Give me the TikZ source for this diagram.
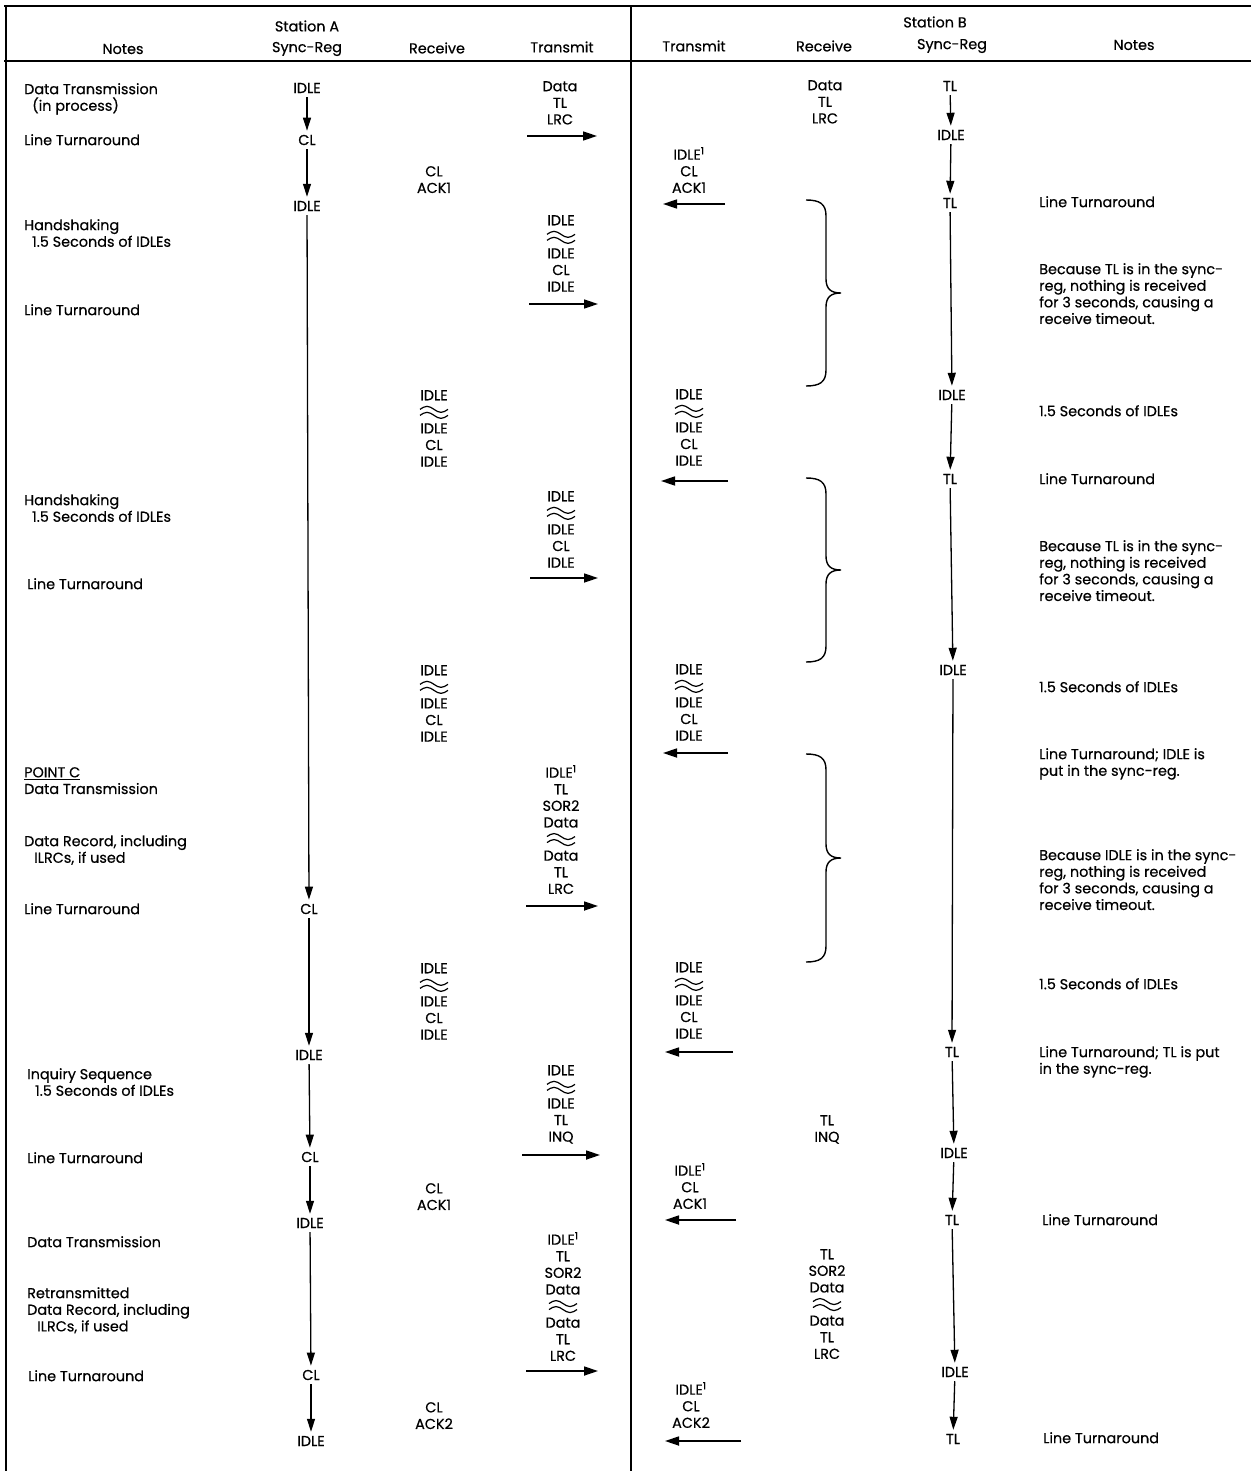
\documentclass[tikz,border=0pt]{standalone}
\usepackage{fontspec}
\setmainfont[FakeBold=0.5]{Poppins}
\usetikzlibrary{arrows.meta}
\newcommand\fs{\fontsize{14.4}{16.6}\selectfont}
% two wavy strokes standing for "and so on"
\newcommand\wv{\tikz[x=1pt,y=1pt,baseline=0pt,line width=1.2pt]{\draw (0,7.5) sin (7,10.5) cos (14,7.5) sin (21,4.5) cos (28,7.5);\draw (0,1.5) sin (7,4.5) cos (14,1.5) sin (21,-1.5) cos (28,1.5);}}
\begin{document}
\begin{tikzpicture}[x=1pt,y=-1pt,
every node/.style={font=\fs,inner sep=0pt},
reg/.style={inner xsep=1pt,inner ysep=4pt},
stk/.style={align=center,anchor=north},
note/.style={align=left,anchor=north west},
flow/.style={-{Triangle[length=13pt,width=8pt]},line width=1.3pt},
sig/.style={-{Triangle[length=14pt,width=9pt]},line width=1.7pt},
brc/.style={line width=1.4pt},
frame/.style={line width=1.7pt}]
\useasboundingbox (0,0) rectangle (1251,1471);
\draw[frame](4,6)--(1251,6) (4,61)--(1251,61) (6,6)--(6,1471) (631,6)--(631,1471);
%%% header
\node (hA) at (307,26) {Station A};
\node (hB) at (935,22) {Station B};
\node (hn1) at (123,49) {Notes};
\node (hs1) at (307,49) {Sync-Reg};
\node (hr1) at (437,48) {Receive};
\node (ht1) at (562,47) {Transmit};
\node (ht2) at (694,46) {Transmit};
\node (hr2) at (824,46) {Receive};
\node (hs2) at (952,46) {Sync-Reg};
\node (hn2) at (1134,45) {Notes};
%%% sync-reg, station A
\node[reg] (a1) at (307,88) {IDLE};
\node[reg] (a2) at (307,140) {CL};
\node[reg] (a3) at (307,206) {IDLE};
\node[reg] (a4) at (309,909) {CL};
\node[reg] (a5) at (309,1055) {IDLE};
\node[reg] (a6) at (310,1157) {CL};
\node[reg] (a7) at (310,1223) {IDLE};
\node[reg] (a8) at (311,1375) {CL};
\node[reg] (a9) at (311,1441) {IDLE};
\foreach \i/\j in {1/2,2/3,3/4,4/5,5/6,6/7,7/8,8/9}
  \draw[flow](a\i)--(a\j);
%%% sync-reg, station B
\node[reg] (b1) at (950,86) {TL};
\node[reg] (b2) at (951,135) {IDLE};
\node[reg] (b3) at (950,203) {TL};
\node[reg] (b4) at (952,395) {IDLE};
\node[reg] (b5) at (950,479) {TL};
\node[reg] (b6) at (953,670) {IDLE};
\node[reg] (b7) at (952,1052) {TL};
\node[reg] (b8) at (954,1153) {IDLE};
\node[reg] (b9) at (952,1220) {TL};
\node[reg] (b10) at (955,1372) {IDLE};
\node[reg] (b11) at (953,1439) {TL};
\foreach \i/\j in {1/2,2/3,3/4,4/5,5/6,6/7,7/8,8/9,9/10,10/11}
  \draw[flow](b\i)--(b\j);
%%% station A receive
\node[stk] (r1) at (434,166) {CL\\ACK1};
\node[stk] (r2) at (434,390) {IDLE\\\wv\\IDLE\\CL\\IDLE};
\node[stk] (r3) at (434,665) {IDLE\\\wv\\IDLE\\CL\\IDLE};
\node[stk] (r4) at (434,963) {IDLE\\\wv\\IDLE\\CL\\IDLE};
\node[stk] (r5) at (434,1183) {CL\\ACK1};
\node[stk] (r6) at (434,1402) {CL\\ACK2};
%%% station A transmit
\node[stk] (t1) at (560,81) {Data\\TL\\LRC};
\node[stk] (t2) at (561,215) {IDLE\\\wv\\IDLE\\CL\\IDLE};
\node[stk] (t3) at (561,491) {IDLE\\\wv\\IDLE\\CL\\IDLE};
\node[stk] (t4) at (561,765) {IDLE\textsuperscript{1}\\TL\\SOR2\\Data\\\wv\\Data\\TL\\LRC};
\node[stk] (t5) at (561,1065) {IDLE\\\wv\\IDLE\\TL\\INQ};
\node[stk] (t6) at (563,1232) {IDLE\textsuperscript{1}\\TL\\SOR2\\Data\\\wv\\Data\\TL\\LRC};
\foreach \xa/\xb/\yy in {527/597/136,529/598/304,530/598/578,526/598/906,522/600/1155,526/598/1371}
  \draw[sig](\xa,\yy)--(\xb,\yy);
%%% station B transmit
\node[stk] (u1) at (689,147) {IDLE\textsuperscript{1}\\CL\\ACK1};
\node[stk] (u2) at (689,389) {IDLE\\\wv\\IDLE\\CL\\IDLE};
\node[stk] (u3) at (689,664) {IDLE\\\wv\\IDLE\\CL\\IDLE};
\node[stk] (u4) at (689,962) {IDLE\\\wv\\IDLE\\CL\\IDLE};
\node[stk] (u5) at (690,1163) {IDLE\textsuperscript{1}\\CL\\ACK1};
\node[stk] (u6) at (691,1382) {IDLE\textsuperscript{1}\\CL\\ACK2};
\foreach \xa/\xb/\yy in {725/663/204,728/661/481,728/663/753,733/665/1052,736/665/1220,741/665/1441}
  \draw[sig](\xa,\yy)--(\xb,\yy);
%%% station B receive
\node[stk] (v1) at (825,80) {Data\\TL\\LRC};
\node[stk] (v2) at (827,1115) {TL\\INQ};
\node[stk] (v3) at (827,1249) {TL\\SOR2\\Data\\\wv\\Data\\TL\\LRC};
\foreach \ya/\yb [evaluate=\ya as \ym using (\ya+\yb)/2] in {200/386,478/662,754/962}
  \draw[brc](806,\ya) .. controls (820,\ya) and (826,\ya+4) .. (826,\ya+16) -- (826,\ym-14)
    .. controls (826,\ym-4) and (831,\ym) .. (841,\ym) .. controls (831,\ym) and (826,\ym+4) .. (826,\ym+14)
    -- (826,\yb-16) .. controls (826,\yb-4) and (820,\yb) .. (806,\yb);
%%% notes, station A
\node[note] (n1) at (24,83) {Data Transmission\\\hspace*{8pt}(in process)};
\node[note] (n2) at (24,134) {Line Turnaround};
\node[note] (n3) at (24,219) {Handshaking\\\hspace*{8pt}1.5 Seconds of IDLEs};
\node[note] (n4) at (24,304) {Line Turnaround};
\node[note] (n5) at (24,494) {Handshaking\\\hspace*{8pt}1.5 Seconds of IDLEs};
\node[note] (n6) at (27,578) {Line Turnaround};
\node[note] (n7) at (24,767) {\underline{POINT C}\\Data Transmission};
\node[note] (n8) at (24,835) {Data Record, including\\\hspace*{10pt}ILRCs, if used};
\node[note] (n9) at (24,903) {Line Turnaround};
\node[note] (n10) at (27,1068) {Inquiry Sequence\\\hspace*{8pt}1.5 Seconds of IDLEs};
\node[note] (n11) at (27,1152) {Line Turnaround};
\node[note] (n12) at (27,1236) {Data Transmission};
\node[note] (n13) at (27,1287) {Retransmitted\\Data Record, including\\\hspace*{10pt}ILRCs, if used};
\node[note] (n14) at (28,1370) {Line Turnaround};
%%% notes, station B
\node[note] (m1) at (1039,196) {Line Turnaround};
\node[note] (m2) at (1039,263) {Because TL is in the sync-\\reg, nothing is received\\for 3 seconds, causing a\\receive timeout.};
\node[note] (m3) at (1039,405) {1.5 Seconds of IDLEs};
\node[note] (m4) at (1039,473) {Line Turnaround};
\node[note] (m5) at (1039,540) {Because TL is in the sync-\\reg, nothing is received\\for 3 seconds, causing a\\receive timeout.};
\node[note] (m6) at (1039,681) {1.5 Seconds of IDLEs};
\node[note] (m7) at (1039,748) {Line Turnaround; IDLE is\\put in the sync-reg.};
\node[note] (m8) at (1039,849) {Because IDLE is in the sync-\\reg, nothing is received\\for 3 seconds, causing a\\receive timeout.};
\node[note] (m9) at (1039,978) {1.5 Seconds of IDLEs};
\node[note] (m10) at (1039,1046) {Line Turnaround; TL is put\\in the sync-reg.};
\node[note] (m11) at (1042,1214) {Line Turnaround};
\node[note] (m12) at (1043,1432) {Line Turnaround};
\end{tikzpicture}
\end{document}
